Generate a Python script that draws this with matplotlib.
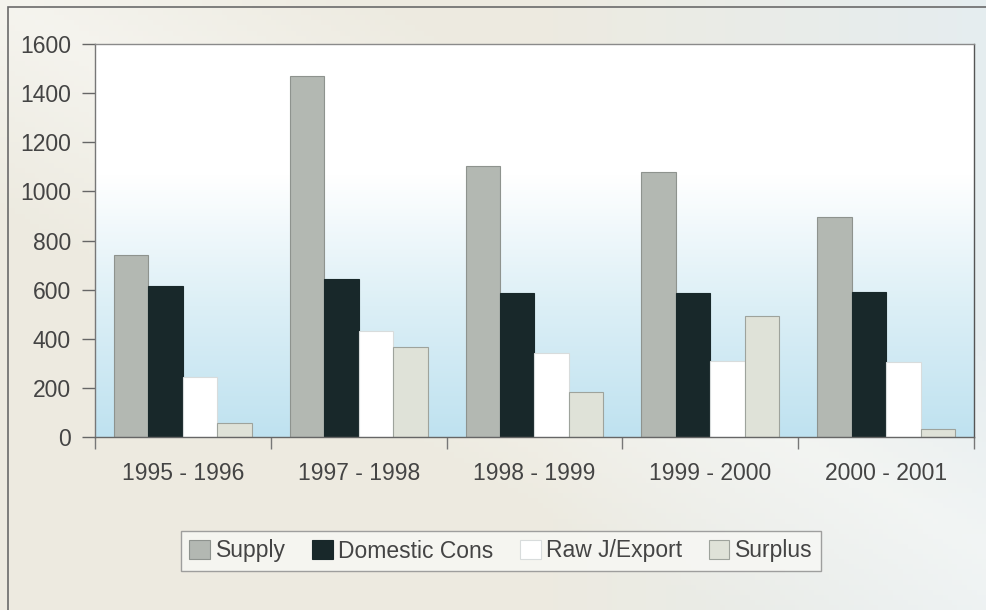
import numpy as np
import matplotlib
matplotlib.use("Agg")
import matplotlib.pyplot as plt
from matplotlib.colors import LinearSegmentedColormap
from matplotlib.patches import Rectangle

# Data
periods = ['1995 - 1996', '1997 - 1998', '1998 - 1999', '1999 - 2000', '2000 - 2001']
supply = [740, 1470, 1105, 1078, 895]
domestic = [615, 645, 585, 587, 590]
raw_export = [245, 430, 343, 309, 305]
surplus = [58, 368, 184, 493, 33]

series_names = ['Supply', 'Domestic Cons', 'Raw J/Export', 'Surplus']
series_colors = ['#b3b8b2', '#18282a', '#ffffff', '#dfe2d8']
series_edges = ['#8e938e', '#18282a', '#d8dcdc', '#9ea39c']

plt.rcParams['font.family'] = ['Liberation Sans', 'DejaVu Sans']

fig = plt.figure(figsize=(9.87, 6.10), dpi=100)

# Page background (warm beige to pale blue)
bg = fig.add_axes([0, 0, 1, 1], zorder=-2)
bg.axis('off')
xx, yy = np.meshgrid(np.linspace(0, 1, 200), np.linspace(0, 1, 120))
warm = np.array([0.93, 0.92, 0.88])
cool = np.array([0.90, 0.93, 0.94])
light = np.array([0.98, 0.98, 0.97])
t = np.clip((xx - 0.55) / 0.45, 0, 1)[..., None]
img = warm * (1 - t) + cool * t
w = np.clip(1 - np.abs((yy * 1.0 - (1 - xx * 0.9)) / 0.35), 0, 1)[..., None] * 0.6
img = img * (1 - w) + light * w
bg.imshow(img, extent=[0, 1, 0, 1], aspect='auto', origin='lower')
bg.set_xlim(0, 1)
bg.set_ylim(0, 1)
bg.add_patch(Rectangle((8 / 987, -0.05), 1.0, 1 - 7 / 610 + 0.05,
                       fill=False, edgecolor='#6a6a6a', linewidth=1.2))

ax = fig.add_axes([95 / 987, 1 - 437 / 610, (974 - 95) / 987, (437 - 44) / 610])

# Plot-area gradient: white at top, light blue at bottom
grad_cmap = LinearSegmentedColormap.from_list('pa', ['#bfe2f0', '#dceff6', '#ffffff', '#ffffff'])
ax.imshow(np.linspace(0, 1, 256)[:, None], cmap=grad_cmap, aspect='auto',
          extent=[-0.5, 4.5, 0, 1600], origin='lower', zorder=0)

x = np.arange(len(periods))
width = 0.196
all_series = [supply, domestic, raw_export, surplus]
for i, (vals, name, col, ec) in enumerate(zip(all_series, series_names, series_colors, series_edges)):
    ax.bar(x + (i - 1.5) * width, vals, width, color=col, edgecolor=ec,
           linewidth=0.8, label=name, zorder=2)

ax.set_xlim(-0.5, 4.5)
ax.set_ylim(0, 1600)
ax.set_yticks(range(0, 1601, 200))
ax.tick_params(axis='y', length=9.4, width=1, color='#666666', pad=8,
               labelsize=16.5, labelcolor='#444444')

ax.set_xticks(np.arange(-0.5, 5, 1))
ax.set_xticklabels([])
ax.set_xticks(x, minor=True)
ax.set_xticklabels(periods, minor=True)
ax.tick_params(axis='x', which='major', length=8.6, width=1, color='#777777')
ax.tick_params(axis='x', which='minor', length=0, pad=18, labelsize=16.5,
               labelcolor='#444444')

ax.spines['left'].set_color('#777777')
ax.spines['bottom'].set_color('#666666')
ax.spines['top'].set_color('#8a8a8a')
ax.spines['right'].set_color('#555555')
for s in ax.spines.values():
    s.set_linewidth(1)

leg = fig.legend(loc='center', bbox_to_anchor=(501 / 987, 1 - 551 / 610), ncol=4,
                 fontsize=16.5, frameon=True, fancybox=False, edgecolor='#8a8a8a',
                 handlelength=0.9, handleheight=0.85, handletextpad=0.25,
                 columnspacing=1.15, borderpad=0.35, labelcolor='#444444')
leg.get_frame().set_facecolor('#f8f8f5')
leg.get_frame().set_linewidth(1)

fig.savefig('out.png', dpi=100)
